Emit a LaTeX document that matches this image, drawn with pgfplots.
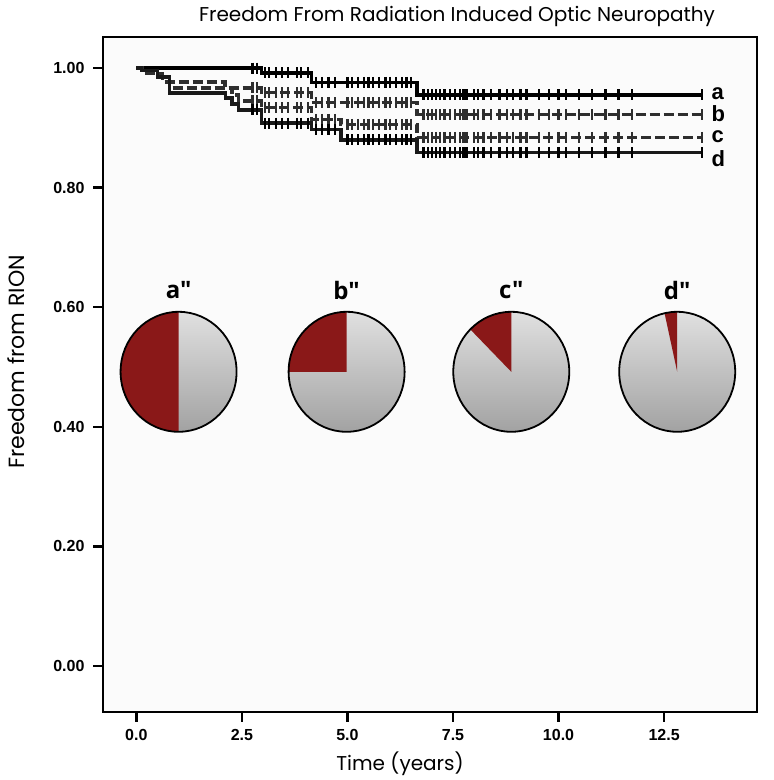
\documentclass[border=0pt]{standalone}
\usepackage{fontspec}
\setmainfont{Poppins}
\newfontfamily\tickfont{Liberation Sans}
\newfontfamily\piefont{Open Sans}
\usepackage{pgfplots}
\usepackage{pgfplotstable}
\pgfplotsset{compat=1.18}

\definecolor{piered}{HTML}{8A1818}
\definecolor{pietop}{HTML}{E0E0E0}
\definecolor{piebot}{HTML}{A2A2A2}
\definecolor{dgray}{HTML}{2E2E2E}

% x = time (years), y = survival, c = 1 for a censored case
\pgfplotstableread{
x y c
0 1.000 0
2.75 1.000 1
2.85 1.000 1
2.97 0.992 0
3.05 0.992 1
3.15 0.992 1
3.30 0.992 1
3.45 0.992 1
3.60 0.992 1
3.80 0.992 1
3.90 0.992 1
4.07 0.992 1
4.15 0.976 0
4.25 0.976 1
4.40 0.976 1
4.55 0.976 1
4.70 0.976 1
5.00 0.976 1
5.10 0.976 1
5.25 0.976 1
5.40 0.976 1
5.50 0.976 1
5.60 0.976 1
5.75 0.976 1
5.90 0.976 1
6.00 0.976 1
6.15 0.976 1
6.30 0.976 1
6.40 0.976 1
6.50 0.976 1
6.65 0.955 0
6.80 0.955 1
6.90 0.955 1
7.00 0.955 1
7.10 0.955 1
7.20 0.955 1
7.30 0.955 1
7.43 0.955 1
7.55 0.955 1
7.66 0.955 1
7.75 0.955 1
7.82 0.955 1
7.99 0.955 1
8.10 0.955 1
8.22 0.955 1
8.40 0.955 1
8.60 0.955 1
8.77 0.955 1
8.93 0.955 1
9.10 0.955 1
9.24 0.955 1
9.54 0.955 1
9.78 0.955 1
10.00 0.955 1
10.17 0.955 1
10.48 0.955 1
10.80 0.955 1
11.11 0.955 1
11.42 0.955 1
11.74 0.955 1
13.40 0.955 1
}\tA

\pgfplotstableread{
x y c
0 1.000 0
0.15 0.991 0
0.62 0.977 0
2.10 0.967 0
2.75 0.967 1
2.85 0.967 1
2.97 0.959 0
3.05 0.959 1
3.15 0.959 1
3.30 0.959 1
3.45 0.959 1
3.60 0.959 1
3.80 0.959 1
3.90 0.959 1
4.07 0.959 1
4.15 0.942 0
4.25 0.942 1
4.40 0.942 1
4.55 0.942 1
4.70 0.942 1
5.00 0.942 1
5.10 0.942 1
5.25 0.942 1
5.40 0.942 1
5.50 0.942 1
5.60 0.942 1
5.75 0.942 1
5.90 0.942 1
6.00 0.942 1
6.15 0.942 1
6.30 0.942 1
6.40 0.942 1
6.50 0.942 1
6.65 0.922 0
6.80 0.922 1
6.90 0.922 1
7.00 0.922 1
7.10 0.922 1
7.20 0.922 1
7.30 0.922 1
7.43 0.922 1
7.55 0.922 1
7.66 0.922 1
7.75 0.922 1
7.82 0.922 1
7.99 0.922 1
8.10 0.922 1
8.22 0.922 1
8.40 0.922 1
8.60 0.922 1
8.77 0.922 1
8.93 0.922 1
9.10 0.922 1
9.24 0.922 1
9.54 0.922 1
9.78 0.922 1
10.00 0.922 1
10.17 0.922 1
10.48 0.922 1
10.80 0.922 1
11.11 0.922 1
11.42 0.922 1
11.74 0.922 1
13.40 0.922 1
}\tB

\pgfplotstableread{
x y c
0 1.000 0
0.12 0.996 0
0.50 0.985 0
0.78 0.967 0
2.27 0.955 0
2.42 0.945 0
2.75 0.945 1
2.85 0.945 1
2.97 0.934 0
3.05 0.934 1
3.15 0.934 1
3.30 0.934 1
3.45 0.934 1
3.60 0.934 1
3.80 0.934 1
3.90 0.934 1
4.07 0.934 1
4.15 0.914 0
4.25 0.914 1
4.40 0.914 1
4.55 0.914 1
4.70 0.914 1
4.85 0.906 0
5.00 0.906 1
5.10 0.906 1
5.25 0.906 1
5.40 0.906 1
5.50 0.906 1
5.60 0.906 1
5.75 0.906 1
5.90 0.906 1
6.00 0.906 1
6.15 0.906 1
6.30 0.906 1
6.40 0.906 1
6.50 0.906 1
6.65 0.884 0
6.80 0.884 1
6.90 0.884 1
7.00 0.884 1
7.10 0.884 1
7.20 0.884 1
7.30 0.884 1
7.43 0.884 1
7.55 0.884 1
7.66 0.884 1
7.75 0.884 1
7.82 0.884 1
7.99 0.884 1
8.10 0.884 1
8.22 0.884 1
8.40 0.884 1
8.60 0.884 1
8.77 0.884 1
8.93 0.884 1
9.10 0.884 1
9.24 0.884 1
9.54 0.884 1
9.78 0.884 1
10.00 0.884 1
10.17 0.884 1
10.48 0.884 1
10.80 0.884 1
11.11 0.884 1
11.42 0.884 1
11.74 0.884 1
13.40 0.884 1
}\tC

\pgfplotstableread{
x y c
0 1.000 0
0.12 0.996 0
0.50 0.985 0
0.78 0.958 0
2.11 0.950 0
2.27 0.940 0
2.42 0.930 0
2.75 0.930 1
2.85 0.930 1
2.97 0.908 0
3.05 0.908 1
3.15 0.908 1
3.30 0.908 1
3.45 0.908 1
3.60 0.908 1
3.80 0.908 1
3.90 0.908 1
4.07 0.908 1
4.15 0.897 0
4.25 0.897 1
4.40 0.897 1
4.55 0.897 1
4.70 0.897 1
4.85 0.880 0
5.00 0.880 1
5.10 0.880 1
5.25 0.880 1
5.40 0.880 1
5.50 0.880 1
5.60 0.880 1
5.75 0.880 1
5.90 0.880 1
6.00 0.880 1
6.15 0.880 1
6.30 0.880 1
6.40 0.880 1
6.50 0.880 1
6.65 0.859 0
6.80 0.859 1
6.90 0.859 1
7.00 0.859 1
7.10 0.859 1
7.20 0.859 1
7.30 0.859 1
7.43 0.859 1
7.55 0.859 1
7.66 0.859 1
7.75 0.859 1
7.82 0.859 1
7.99 0.859 1
8.10 0.859 1
8.22 0.859 1
8.40 0.859 1
8.60 0.859 1
8.77 0.859 1
8.93 0.859 1
9.10 0.859 1
9.24 0.859 1
9.54 0.859 1
9.78 0.859 1
10.00 0.859 1
10.17 0.859 1
10.48 0.859 1
10.80 0.859 1
11.11 0.859 1
11.42 0.859 1
11.74 0.859 1
13.40 0.859 1
}\tD

% pie: x position, share of the red slice (percent), label
\newcommand\pie[3]{%
  \shade[top color=pietop, bottom color=piebot] (axis cs:#1,0.492) ellipse[x radius=58bp, y radius=60bp];
  \fill[piered] (axis cs:#1,0.492) -- ++(0bp,60bp) arc[start angle=90, delta angle={3.6*#2}, x radius=58bp, y radius=60bp] -- cycle;
  \draw[line width=1.8bp] (axis cs:#1,0.492) ellipse[x radius=58bp, y radius=60bp];
  \node[font=\piefont\bfseries\fontsize{24bp}{28bp}\selectfont] at (axis cs:#1,0.628) {#3"};
}

\begin{document}
\begin{tikzpicture}
\path[use as bounding box] (0,0) rectangle (774bp,780bp);
\begin{axis}[
  at={(103bp,68bp)}, anchor=south west,
  width=654bp, height=675bp, scale only axis,
  xmin=-0.79, xmax=14.7, ymin=-0.077, ymax=1.052,
  xtick={0,2.5,5,7.5,10,12.5},
  ytick={0,0.2,0.4,0.6,0.8,1},
  tick pos=left, tick align=outside,
  major tick length=10bp,
  axis line style={line width=2.5bp},
  every tick/.style={line width=2.5bp, black},
  axis background/.style={fill=white!98.5!black},
  /pgf/number format/assume math mode=true,
  xticklabel style={font=\tickfont\bfseries\fontsize{16bp}{18bp}\selectfont, yshift=-4bp,
    /pgf/number format/.cd, fixed, fixed zerofill, precision=1},
  yticklabel style={font=\tickfont\bfseries\fontsize{16bp}{18bp}\selectfont, xshift=-5bp,
    /pgf/number format/.cd, fixed, fixed zerofill, precision=2},
]
\addplot[const plot, no marks, line width=3.4bp, black] table[x=x,y=y] {\tA};
\addplot[const plot, no marks, line width=3.4bp, dgray, dash pattern=on 10bp off 4bp] table[x=x,y=y] {\tB};
\addplot[const plot, no marks, line width=3.4bp, dgray, dash pattern=on 10bp off 4bp] table[x=x,y=y] {\tC};
\addplot[const plot, no marks, line width=3.4bp, black!90] table[x=x,y=y] {\tD};

\addplot[only marks, mark=|, mark size=5.5bp, mark options={line width=2.2bp, black, solid},
  restrict expr to domain={\thisrow{c}}{0.5:1.5}] table[x=x,y=y] {\tA};
\addplot[only marks, mark=|, mark size=5.5bp, mark options={line width=2.2bp, dgray, solid},
  restrict expr to domain={\thisrow{c}}{0.5:1.5}] table[x=x,y=y] {\tB};
\addplot[only marks, mark=|, mark size=5.5bp, mark options={line width=2.2bp, dgray, solid},
  restrict expr to domain={\thisrow{c}}{0.5:1.5}] table[x=x,y=y] {\tC};
\addplot[only marks, mark=|, mark size=5.5bp, mark options={line width=2.2bp, black, solid},
  restrict expr to domain={\thisrow{c}}{0.5:1.5}] table[x=x,y=y] {\tD};

\node[anchor=west, inner sep=0, font=\tickfont\bfseries\fontsize{22bp}{22bp}\selectfont] at (axis cs:13.62,0.958) {a};
\node[anchor=west, inner sep=0, font=\tickfont\bfseries\fontsize{22bp}{22bp}\selectfont] at (axis cs:13.62,0.923) {b};
\node[anchor=west, inner sep=0, font=\tickfont\bfseries\fontsize{22bp}{22bp}\selectfont] at (axis cs:13.62,0.885) {c};
\node[anchor=west, inner sep=0, font=\tickfont\bfseries\fontsize{22bp}{22bp}\selectfont] at (axis cs:13.62,0.848) {d};

\pie{1.0}{50}{a}
\pie{4.98}{25}{b}
\pie{8.88}{12.5}{c}
\pie{12.81}{3.5}{d}
\end{axis}
\node[rotate=90, font=\fontsize{22bp}{26bp}\selectfont] at (16bp,418bp) {Freedom from RION};
\node[font=\fontsize{20bp}{24bp}\selectfont] at (400bp,16bp) {Time (years)};
\node[font=\fontsize{20bp}{24bp}\selectfont] at (457bp,764bp) {Freedom From Radiation Induced Optic Neuropathy};
\end{tikzpicture}
\end{document}
